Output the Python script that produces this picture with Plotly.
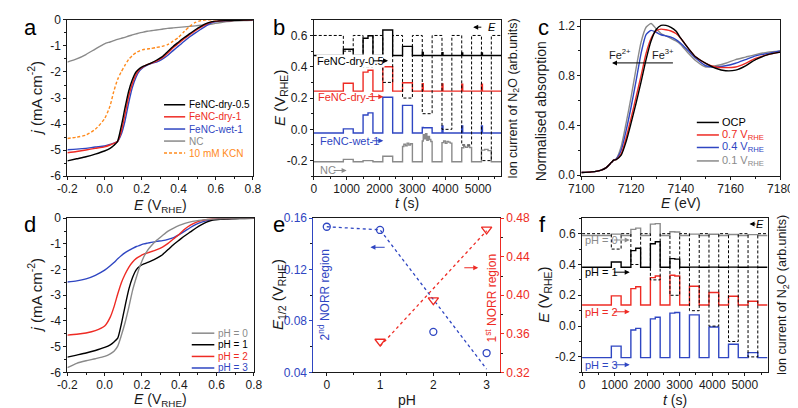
import plotly.graph_objects as go

FONT = "Liberation Sans, Arial, sans-serif"
INK = "#1a1a1a"
RED = "#ee2b24"
BLUE = "#2f46c2"
GRAY = "#8a8a8a"
ORANGE = "#ff8a1c"

# ---------------- a / d : linear sweep voltammetry ----------------
e_lsv = [-0.2, -0.15, -0.1, -0.05, 0.0, 0.03, 0.05, 0.07, 0.09, 0.11, 0.13, 0.15, 0.17,
         0.19, 0.21, 0.23, 0.25, 0.28, 0.31, 0.34, 0.37, 0.40, 0.43, 0.46, 0.49, 0.52,
         0.55, 0.58, 0.62, 0.66, 0.70, 0.75, 0.80]
j_dry05 = [-5.41, -5.33, -5.25, -5.15, -5.03, -4.93, -4.82, -4.67, -4.1, -3.4, -2.75, -2.3, -2.0,
           -1.86, -1.78, -1.72, -1.66, -1.55, -1.42, -1.22, -1.02, -0.85, -0.68, -0.53, -0.38, -0.25,
           -0.14, -0.07, -0.04, -0.03, -0.02, -0.01, 0.0]
j_dry1 = [-5.1, -5.05, -4.99, -4.93, -4.87, -4.8, -4.74, -4.67, -4.3, -3.65, -2.95, -2.45, -2.1,
          -1.9, -1.8, -1.72, -1.67, -1.58, -1.46, -1.28, -1.07, -0.9, -0.72, -0.57, -0.42, -0.28,
          -0.16, -0.08, -0.04, -0.03, -0.02, -0.01, 0.0]
j_wet1 = [-4.98, -4.96, -4.93, -4.88, -4.84, -4.78, -4.73, -4.67, -4.4, -3.9, -3.2, -2.6, -2.2,
          -1.95, -1.82, -1.74, -1.68, -1.62, -1.52, -1.37, -1.18, -1.0, -0.82, -0.65, -0.5, -0.36,
          -0.22, -0.11, -0.05, -0.03, -0.02, -0.01, 0.0]
j_nc = [-1.62, -1.5, -1.33, -1.12, -0.92, -0.85, -0.8, -0.75, -0.71, -0.67, -0.62, -0.58, -0.54,
        -0.5, -0.47, -0.44, -0.42, -0.39, -0.36, -0.33, -0.31, -0.29, -0.27, -0.25, -0.23, -0.21,
        -0.19, -0.16, -0.11, -0.07, -0.05, -0.03, -0.02]
j_kcn = [-4.55, -4.5, -4.42, -4.2, -3.8, -3.3, -2.75, -2.3, -2.0, -1.75, -1.52, -1.37, -1.26,
         -1.19, -1.14, -1.12, -1.1, -1.06, -1.02, -0.95, -0.82, -0.67, -0.45, -0.25, -0.1, -0.03,
         0.0, 0.0, 0.0, 0.0, 0.0, 0.0, 0.0]
j_ph0 = [-5.82, -5.65, -5.55, -5.47, -5.38, -5.28, -5.18, -4.98, -4.55, -4.05, -3.45, -2.8, -2.3,
         -1.85, -1.5, -1.25, -1.07, -0.85, -0.67, -0.5, -0.38, -0.28, -0.2, -0.14, -0.1, -0.07,
         -0.05, -0.03, -0.02, -0.01, -0.01, 0.0, 0.0]
j_ph1 = j_dry05
j_ph2 = [-4.55, -4.52, -4.47, -4.38, -4.2, -3.85, -3.45, -2.95, -2.5, -2.17, -1.9, -1.7, -1.56,
         -1.47, -1.4, -1.35, -1.3, -1.22, -1.12, -0.98, -0.8, -0.62, -0.42, -0.27, -0.16, -0.09,
         -0.05, -0.03, -0.02, -0.01, 0.0, 0.0, 0.0]
j_ph3 = [-2.48, -2.44, -2.36, -2.22, -2.02, -1.85, -1.72, -1.58, -1.45, -1.34, -1.25, -1.17, -1.1,
         -1.05, -1.0, -0.97, -0.94, -0.9, -0.87, -0.82, -0.75, -0.64, -0.5, -0.36, -0.24, -0.15,
         -0.09, -0.05, -0.02, -0.01, 0.0, 0.0, 0.0]

# ---------------- b / f : potential steps and N2O ion current ----------------
t_set = [0, 900, 1200, 1500, 1800, 2100, 2400, 2700, 3000, 3300, 3600, 3900, 4200, 4500, 4800,
         5100, 5400, 5700]
e_set = [0.6, 0.5, 0.6, 0.4, 0.6, 0.3, 0.6, 0.2, 0.6, 0.1, 0.6, 0.0, 0.6, -0.1, 0.6, -0.2, 0.6, 0.6]

t_b = [0, 900, 1200, 1500, 1650, 1800, 2100, 2400, 2700, 3000, 3300, 3330, 3600, 3900, 3930,
       4200, 4500, 4530, 4800, 5100, 5130, 5400, 5700]
i_dry05 = [0.472, 0.512, 0.472, 0.582, 0.598, 0.472, 0.635, 0.472, 0.530, 0.472, 0.492, 0.472,
           0.472, 0.49, 0.472, 0.472, 0.488, 0.472, 0.472, 0.488, 0.472, 0.472, 0.472]
i_dry1 = [0.244, 0.295, 0.244, 0.366, 0.378, 0.244, 0.400, 0.244, 0.298, 0.244, 0.292, 0.244,
          0.244, 0.29, 0.244, 0.244, 0.288, 0.244, 0.244, 0.288, 0.244, 0.244, 0.244]
i_wet1 = [-0.023, 0.003, -0.023, 0.092, 0.105, -0.023, 0.205, -0.023, 0.153, -0.023, 0.012, 0.010,
          -0.023, 0.022, -0.023, -0.023, 0.022, -0.023, -0.023, 0.022, -0.023, -0.023, -0.023]
t_nc = [0, 900, 1200, 1500, 1800, 2100, 2400,
        2700, 2740, 2790, 2840, 2890, 2940, 3000,
        3300, 3330, 3360, 3400, 3440, 3480, 3520, 3560, 3600,
        3900, 3950, 4000, 4050, 4100, 4150, 4200,
        4500, 4560, 4620, 4680, 4740, 4800,
        5100, 5200, 5300, 5400, 5700]
i_nc = [-0.207, -0.192, -0.207, -0.2, -0.207, -0.172, -0.207,
        -0.11, -0.095, -0.105, -0.088, -0.1, -0.092, -0.207,
        -0.075, -0.035, -0.06, -0.028, -0.07, -0.045, -0.065, -0.078, -0.207,
        -0.085, -0.075, -0.09, -0.078, -0.082, -0.088, -0.207,
        -0.118, -0.11, -0.115, -0.108, -0.116, -0.207,
        -0.133, -0.128, -0.136, -0.207, -0.207]

t_f = [0, 900, 1200, 1500, 1650, 1800, 2100, 2250, 2400, 2700, 2850, 3000, 3300, 3600, 3900,
       4200, 4500, 4800, 5100, 5400, 5700]
i_ph0 = [0.588, 0.597, 0.588, 0.628, 0.636, 0.588, 0.662, 0.665, 0.588, 0.613, 0.611, 0.588,
         0.597, 0.588, 0.596, 0.588, 0.595, 0.588, 0.594, 0.588, 0.588]
i_ph1 = [0.382, 0.416, 0.382, 0.49, 0.505, 0.382, 0.535, 0.548, 0.382, 0.438, 0.435, 0.382,
         0.383, 0.382, 0.383, 0.382, 0.383, 0.382, 0.383, 0.382, 0.382]
i_ph2 = [0.137, 0.196, 0.137, 0.243, 0.255, 0.137, 0.315, 0.325, 0.137, 0.33, 0.325, 0.137,
         0.259, 0.137, 0.218, 0.137, 0.194, 0.137, 0.161, 0.137, 0.137]
i_ph3 = [-0.205, -0.13, -0.205, -0.025, -0.015, -0.205, 0.047, 0.057, -0.205, 0.084, 0.088, -0.205,
         0.073, -0.205, -0.006, -0.205, -0.118, -0.205, -0.172, -0.205, -0.205]

# ---------------- c : Fe K-edge XANES ----------------
e_xas = [7100, 7104, 7108, 7110, 7112, 7113, 7114, 7116, 7118, 7120, 7122, 7124, 7126, 7128, 7130,
         7132, 7134, 7136, 7138, 7140, 7143, 7146, 7150, 7154, 7158, 7162, 7166, 7170, 7175, 7180]
a_ocp = [0.02, 0.025, 0.04, 0.06, 0.1, 0.12, 0.125, 0.16, 0.27, 0.42, 0.58, 0.75, 0.93, 1.08, 1.17,
         1.205, 1.205, 1.19, 1.16, 1.1, 1.02, 0.95, 0.9, 0.86, 0.84, 0.845, 0.88, 0.93, 0.97, 0.99]
a_07 = [0.02, 0.025, 0.04, 0.06, 0.1, 0.12, 0.125, 0.17, 0.3, 0.46, 0.63, 0.8, 0.98, 1.1, 1.16,
        1.175, 1.17, 1.16, 1.14, 1.1, 1.02, 0.95, 0.9, 0.87, 0.865, 0.87, 0.9, 0.94, 0.97, 0.99]
a_04 = [0.02, 0.025, 0.04, 0.06, 0.1, 0.12, 0.13, 0.2, 0.36, 0.55, 0.76, 0.98, 1.13, 1.165, 1.15,
        1.13, 1.12, 1.11, 1.09, 1.06, 1.0, 0.94, 0.88, 0.87, 0.88, 0.9, 0.93, 0.96, 0.98, 1.0]
a_01 = [0.02, 0.025, 0.04, 0.06, 0.1, 0.12, 0.13, 0.23, 0.42, 0.63, 0.86, 1.07, 1.19, 1.22, 1.18,
        1.14, 1.12, 1.1, 1.08, 1.05, 0.98, 0.92, 0.87, 0.88, 0.9, 0.93, 0.95, 0.97, 0.99, 1.0]

# ---------------- e : half-wave potentials vs pH ----------------
ph = [0, 1, 2, 3]
e12_2nd = [0.1534, 0.1509, 0.0715, 0.055]
ph_1st = [1, 2, 3]
e12_1st = [0.352, 0.395, 0.4685]
fit_2nd_x = [0, 1, 3]
fit_2nd_y = [0.1534, 0.151, 0.0425]
fit_1st_x = [1, 3]
fit_1st_y = [0.347, 0.467]

fig = go.Figure()


def line(x, y, color, xa, ya, dash="solid", width=1.4, shape="linear"):
    ln = dict(color=color, width=width, dash=dash, shape=shape)
    if shape == "spline":
        ln["smoothing"] = 0.6
    fig.add_trace(go.Scatter(x=x, y=y, mode="lines", xaxis=xa, yaxis=ya, line=ln,
                             hoverinfo="skip", showlegend=False))


STEP_DASH = "3px,2px"

# a
line(e_lsv, j_nc, GRAY, "x", "y", shape="spline")
line(e_lsv, j_kcn, ORANGE, "x", "y", dash=STEP_DASH, shape="spline")
line(e_lsv, j_wet1, BLUE, "x", "y", shape="spline")
line(e_lsv, j_dry1, RED, "x", "y", shape="spline")
line(e_lsv, j_dry05, "black", "x", "y", shape="spline")
# b
line(t_nc, i_nc, GRAY, "x2", "y2", shape="hv")
line(t_b, i_wet1, BLUE, "x2", "y2", shape="hv")
line(t_b, i_dry1, RED, "x2", "y2", shape="hv")
line(t_b, i_dry05, "black", "x2", "y2", shape="hv")
line(t_set, e_set, "black", "x2", "y2", dash=STEP_DASH, width=1, shape="hv")
# c
line(e_xas, a_01, GRAY, "x3", "y3", shape="spline")
line(e_xas, a_04, BLUE, "x3", "y3", shape="spline")
line(e_xas, a_07, RED, "x3", "y3", shape="spline")
line(e_xas, a_ocp, "black", "x3", "y3", shape="spline")
# d
line(e_lsv, j_ph3, BLUE, "x4", "y4", shape="spline")
line(e_lsv, j_ph2, RED, "x4", "y4", shape="spline")
line(e_lsv, j_ph1, "black", "x4", "y4", shape="spline")
line(e_lsv, j_ph0, GRAY, "x4", "y4", shape="spline")
# e
line(fit_2nd_x, fit_2nd_y, BLUE, "x5", "y5", dash="dot", width=1.3)
line(fit_1st_x, fit_1st_y, RED, "x5", "y7", dash="dot", width=1.3)
fig.add_trace(go.Scatter(x=ph, y=e12_2nd, mode="markers", xaxis="x5", yaxis="y5",
                         marker=dict(symbol="circle-open", size=7, color=BLUE, line=dict(width=1.3)),
                         hoverinfo="skip", showlegend=False))
fig.add_trace(go.Scatter(x=ph_1st, y=e12_1st, mode="markers", xaxis="x5", yaxis="y7",
                         marker=dict(symbol="triangle-down-open", size=9, color=RED, line=dict(width=1.3)),
                         hoverinfo="skip", showlegend=False))
# f
line(t_f, i_ph3, BLUE, "x6", "y6", shape="hv")
line(t_f, i_ph2, RED, "x6", "y6", shape="hv")
line(t_f, i_ph1, "black", "x6", "y6", shape="hv")
line(t_f, i_ph0, GRAY, "x6", "y6", shape="hv")
line(t_set, e_set, "black", "x6", "y6", dash=STEP_DASH, width=1, shape="hv")


def px(x, y):
    return x / 798, 1 - y / 408


TICK = 12


def axis(dom, anchor, rng, vals, texts, mdt, m0=0, **kw):
    d = dict(domain=dom, anchor=anchor, range=rng, tickmode="array", tickvals=vals, ticktext=texts,
             showline=True, linecolor=INK, linewidth=1, mirror=True, ticks="outside", ticklen=3,
             tickwidth=1, tickcolor=INK, showgrid=False, zeroline=False,
             tickfont=dict(size=TICK, color=INK, family=FONT),
             minor=dict(ticks="outside", ticklen=2, tickwidth=1, tickcolor=INK, dtick=mdt, tick0=m0))
    d.update(kw)
    return d


def xaxis(*a, **kw):
    kw.setdefault("ticklabelstandoff", -2)
    return axis(*a, **kw)


top = [1 - 167 / 408, 1 - 5 / 408]
bot = [1 - 370 / 408, 1 - 210.5 / 408]
e_vals = [-0.2, 0.0, 0.2, 0.4, 0.6, 0.8]
e_text = ["-0.2", "0.0", "0.2", "0.4", "0.6", "0.8"]
j_vals = [-6, -5, -4, -3, -2, -1, 0]
j_text = ["-6", "-5", "-4", "-3", "-2", "-1", "0"]
t_vals = [0, 1000, 2000, 3000, 4000, 5000]
t_text = ["0", "1000", "2000", "3000", "4000", "5000"]
v_vals = [-0.2, 0.0, 0.2, 0.4, 0.6]
v_text = ["-0.2", "0.0", "0.2", "0.4", "0.6"]

fig.update_layout(
    width=798, height=408, margin=dict(l=0, r=0, t=0, b=0),
    paper_bgcolor="white", plot_bgcolor="white", showlegend=False,
    font=dict(family=FONT, size=12, color=INK),
    xaxis=xaxis([48 / 798, 240 / 798], "y", [-0.2, 0.8], e_vals, e_text, 0.1),
    yaxis=axis(top, "x", [-6, 0], j_vals, j_text, 0.5),
    xaxis2=xaxis([303 / 798, 497 / 798], "y2", [0, 5700], t_vals, t_text, 500),
    yaxis2=axis(top, "x2", [-0.3, 0.7], v_vals, v_text, 0.1),
    xaxis3=xaxis([580 / 798, 786 / 798], "y3", [7100, 7180], [7100, 7120, 7140, 7160, 7180],
                 ["7100", "7120", "7140", "7160", "7180"], 10, 7100),
    yaxis3=axis(top, "x3", [-0.01, 1.25], [0, 0.4, 0.8, 1.2], ["0.0", "0.4", "0.8", "1.2"], 0.2),
    xaxis4=xaxis([48 / 798, 241 / 798], "y4", [-0.2, 0.8], e_vals, e_text, 0.1),
    yaxis4=axis(bot, "x4", [-6, 0], j_vals, j_text, 0.5),
    xaxis5=xaxis([302.7 / 798, 495.7 / 798], "y5", [-0.25, 3.25], [0, 1, 2, 3], ["0", "1", "2", "3"], 0.5),
    yaxis5=axis(bot, "x5", [0.04, 0.16], [0.04, 0.08, 0.12, 0.16], ["0.04", "0.08", "0.12", "0.16"],
                0.02, mirror=False, linecolor=BLUE, tickcolor=BLUE,
                tickfont=dict(size=TICK, color=BLUE, family=FONT)),
    yaxis7=axis(bot, "x5", [0.32, 0.48], [0.32, 0.36, 0.40, 0.44, 0.48],
                ["0.32", "0.36", "0.40", "0.44", "0.48"], 0.02, 0.32, overlaying="y5", side="right",
                mirror=False, linecolor=RED, tickcolor=RED,
                tickfont=dict(size=TICK, color=RED, family=FONT)),
    xaxis6=xaxis([580.7 / 798, 772.7 / 798], "y6", [0, 5700], t_vals, t_text, 500),
    yaxis6=axis(bot, "x6", [-0.3, 0.7], v_vals, v_text, 0.1),
)

ann = []


def text_px(s, x, y, size=15, color=INK, angle=0, xanchor="center"):
    X, Y = px(x, y)
    ann.append(dict(text=s, x=X, y=Y, xref="paper", yref="paper", showarrow=False, textangle=angle,
                    xanchor=xanchor, yanchor="middle", font=dict(size=size, color=color, family=FONT)))


def text_data(s, x, y, xa, ya, color, size=11, xanchor="left", bg=None):
    a = dict(text=s, x=x, y=y, xref=xa, yref=ya, showarrow=False, xanchor=xanchor, yanchor="middle",
             font=dict(size=size, color=color, family=FONT))
    if bg:
        a["bgcolor"] = bg
        a["borderpad"] = 0
    ann.append(a)


def arrow(x0, x1, y, xa, ya, color):
    ann.append(dict(text="", x=x1, y=y, ax=x0, ay=y, xref=xa, yref=ya, axref=xa, ayref=ya,
                    showarrow=True, arrowhead=2, arrowsize=1, arrowwidth=1, arrowcolor=color,
                    standoff=0, startstandoff=0))


# panel letters
for s, x, y in [("a", 10, 13), ("b", 267, 13), ("c", 541, 13), ("d", 9, 217), ("e", 267, 217), ("f", 540, 217)]:
    text_px(s, x, y, size=22, color="black")

# axis titles
E_RHE = "<i>E</i> (V<sub>RHE</sub>)"
J_TITLE = "<i>j</i> (mA cm<sup>-2</sup>)"
ION = "Ion current of N<sub>2</sub>O (arb.units)"
X_TITLE = 14
text_px(J_TITLE, 14, 86, angle=-90)
text_px(E_RHE, 144, 197.5, size=X_TITLE)
text_px(E_RHE, 268, 86, angle=-90)
text_px("<i>t</i> (s)", 400, 195, size=X_TITLE)
text_px(ION, 510, 86, size=12.5, angle=-90)
text_px("Normalised absorption", 538, 100, size=14, angle=-90)
text_px("<i>E</i> (eV)", 683, 195, size=X_TITLE)
text_px(J_TITLE, 14, 290, angle=-90)
text_px(E_RHE, 144, 398.5, size=X_TITLE)
text_px("<i>E</i><sub>1/2</sub> (V<sub>RHE</sub>)", 266, 290, angle=-90)
text_px("pH", 400, 398.5, size=X_TITLE)
text_px(E_RHE, 541, 290, angle=-90)
text_px("<i>t</i> (s)", 677, 398.5, size=X_TITLE)
text_px(ION, 789, 290, size=12.5, angle=-90)

# legends drawn as short lines + labels inside the plot area
shapes = []


def legend(xd, yd, x0, x1, xt, rows, size=10.5):
    for (label, color, dash), yy in rows:
        shapes.append(dict(type="line", xref=xd, yref=yd, x0=x0, x1=x1, y0=yy, y1=yy,
                           line=dict(color=color, width=1.5, dash=dash)))
        ann.append(dict(text=label, x=xt, y=yy, xref=xd, yref=yd, showarrow=False, xanchor="left",
                        yanchor="middle", borderpad=0, font=dict(size=size, color=color, family=FONT)))


legend("x domain", "y domain", 0.521, 0.635, 0.651,
       list(zip([("FeNC-dry-0.5", "black", "solid"), ("FeNC-dry-1", RED, "solid"),
                 ("FeNC-wet-1", BLUE, "solid"), ("NC", GRAY, "solid"),
                 ("10 mM KCN", ORANGE, STEP_DASH)], [0.457, 0.380, 0.302, 0.225, 0.148])), size=10)
legend("x3 domain", "y3 domain", 0.58, 0.691, 0.70,
       list(zip([("OCP", "black", "solid"), ("0.7 V<sub>RHE</sub>", RED, "solid"),
                 ("0.4 V<sub>RHE</sub>", BLUE, "solid"), ("0.1 V<sub>RHE</sub>", GRAY, "solid")],
                [0.344, 0.264, 0.184, 0.098])), size=11)
legend("x4 domain", "y4 domain", 0.667, 0.788, 0.805,
       list(zip([("pH = 0", GRAY, "solid"), ("pH = 1", "black", "solid"),
                 ("pH = 2", RED, "solid"), ("pH = 3", BLUE, "solid")],
                [0.254, 0.179, 0.103, 0.028])), size=10)

# b labels
text_data("FeNC-dry-0.5", 59, 0.438, "x2", "y2", "black", bg="white")
arrow(1760, 2260, 0.438, "x2", "y2", "black")
text_data("FeNC-dry-1", 59, 0.209, "x2", "y2", RED)
arrow(1616, 2115, 0.209, "x2", "y2", RED)
text_data("FeNC-wet-1", 118, -0.073, "x2", "y2", BLUE)
arrow(1733, 2115, -0.073, "x2", "y2", BLUE)
text_data("NC", 118, -0.263, "x2", "y2", GRAY)
arrow(558, 1000, -0.263, "x2", "y2", GRAY)
arrow(5141, 4848, 0.653, "x2", "y2", "black")
text_data("<i>E</i>", 5406, 0.653, "x2", "y2", "black", xanchor="center")

# c arrow
arrow(7137.4, 7112.3, 0.903, "x3", "y3", "black")
text_data("Fe<sup>2+</sup>", 7115.5, 0.975, "x3", "y3", INK, xanchor="center")
text_data("Fe<sup>3+</sup>", 7133, 0.975, "x3", "y3", INK, xanchor="center")

# e arrows and region labels
arrow(1.115, 0.82, 0.1374, "x5", "y5", BLUE)
arrow(2.553, 2.843, 0.4286, "x5", "y7", RED)
text_px("2<sup>nd</sup> NORR region", 314, 290, size=12, color=BLUE, angle=-90)
text_px("1<sup>st</sup> NORR region", 486, 293, size=12, color=RED, angle=-90)

# f labels
for s, c, yy in [("pH = 0", GRAY, 0.559), ("pH = 1", "black", 0.35), ("pH = 2", RED, 0.093),
                 ("pH = 3", BLUE, -0.251)]:
    text_data(s, 39, yy, "x6", "y6", c)
    arrow(930, 1464, yy, "x6", "y6", c)
arrow(5373, 5145, 0.663, "x6", "y6", "black")
text_data("<i>E</i>", 5471, 0.663, "x6", "y6", "black", xanchor="center")

fig.update_layout(annotations=ann, shapes=shapes)
fig.write_html("out.html")
